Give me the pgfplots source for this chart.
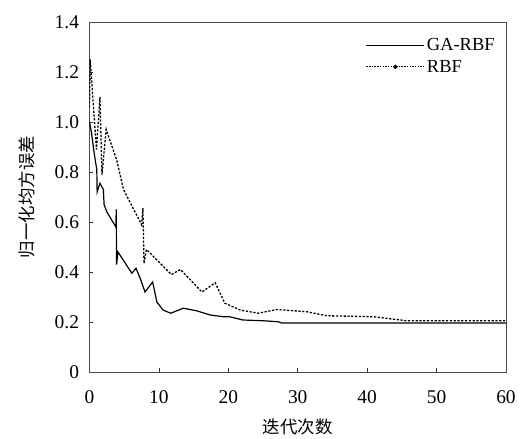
\documentclass[border=0pt]{standalone}
\usepackage{fontspec}
\setmainfont{Liberation Serif}
\newfontfamily\cjk{Noto Sans CJK SC}
\usepackage{pgfplots}
\pgfplotsset{compat=1.18}
\newcommand{\fs}{\fontsize{19.5}{23}\selectfont}
\newcommand{\fl}{\fontsize{18.5}{22}\selectfont}
\newcommand{\fc}{\fontsize{17.5}{21}\selectfont}
\begin{document}
\begin{tikzpicture}
\begin{axis}[
  at={(0,0)}, anchor=south west,
  scale only axis, width=416.5bp, height=350bp,
  xmin=0, xmax=60, ymin=0, ymax=1.4,
  xtick={0,10,20,30,40,50,60},
  ytick={0,0.2,0.4,0.6,0.8,1.0,1.2,1.4},
  yticklabels={0,0.2,0.4,0.6,0.8,1.0,1.2,1.4},
  /pgf/number format/assume math mode=true,
  tick align=inside, xtick pos=bottom, ytick pos=left,
  major tick length=4bp,
  axis line style={black!70, line width=0.9bp},
  every tick/.style={black!80, line width=0.7bp},
  tick label style={font=\fs},
  yticklabel style={xshift=-7bp},
  xticklabel style={yshift=-15bp},
  xlabel={\cjk\fc 迭代次数},
  ylabel={\cjk\fc 归一化均方误差},
  xlabel style={at={(axis description cs:0.5,-0.158)}, anchor=center},
  ylabel style={at={(axis description cs:-0.151,0.5)}, anchor=center},
  legend style={draw=none, fill=none, font=\fl, at={(axis description cs:0.985,0.965)}, anchor=north east,
    row sep=4bp, legend cell align=left},
  legend image code/.code={\draw[#1, mark repeat=2, mark phase=2] plot coordinates {(0bp,0bp) (29bp,0bp) (58bp,0bp)};},
]
\addplot[black, line width=1.2bp] coordinates {
(0,1.0) (0.3,0.955) (0.6,0.89) (0.9,0.835) (1.05,0.81) (1.1,0.72) (1.5,0.755) (2.0,0.73) (2.1,0.67)
(2.5,0.64) (3.8,0.58) (3.85,0.65) (3.9,0.43) (4.1,0.48) (6.1,0.395) (6.7,0.415) (7.3,0.375) (8.0,0.32)
(9.1,0.36) (9.7,0.28) (10.6,0.248) (11.7,0.235) (13.5,0.255) (15.4,0.245) (17.4,0.228) (19.3,0.221)
(20.2,0.221) (22.1,0.208) (25,0.205) (27.2,0.201) (27.7,0.196) (60,0.196)
};
\addlegendentry{GA-RBF}
\addplot[black, line width=1.3bp, dash pattern=on 2.2bp off 1.6bp, forget plot] coordinates {
(0,1.06) (0.1,1.25) (1.0,0.89) (1.5,1.10) (1.8,0.79) (2.4,0.97) (3.9,0.85) (4.9,0.73) (6.0,0.67)
(7.5,0.59) (7.7,0.655) (7.85,0.435) (8.2,0.49) (11.8,0.39) (13.1,0.41) (16.2,0.32) (18.1,0.357)
(19.5,0.275) (21.7,0.248) (24.3,0.235) (27,0.25) (31.3,0.241) (34.2,0.225) (40.9,0.221) (45.7,0.205) (60,0.205)
};
\addlegendimage{black, line width=0.8bp, dash pattern=on 1.5bp off 1.2bp, mark=*, mark size=1.8bp, mark options={solid}}
\addlegendentry{RBF}
\end{axis}
\pgfresetboundingbox
\path[use as bounding box] (-89.5bp,-67bp) rectangle (433.5bp,372bp);
\end{tikzpicture}
\end{document}
